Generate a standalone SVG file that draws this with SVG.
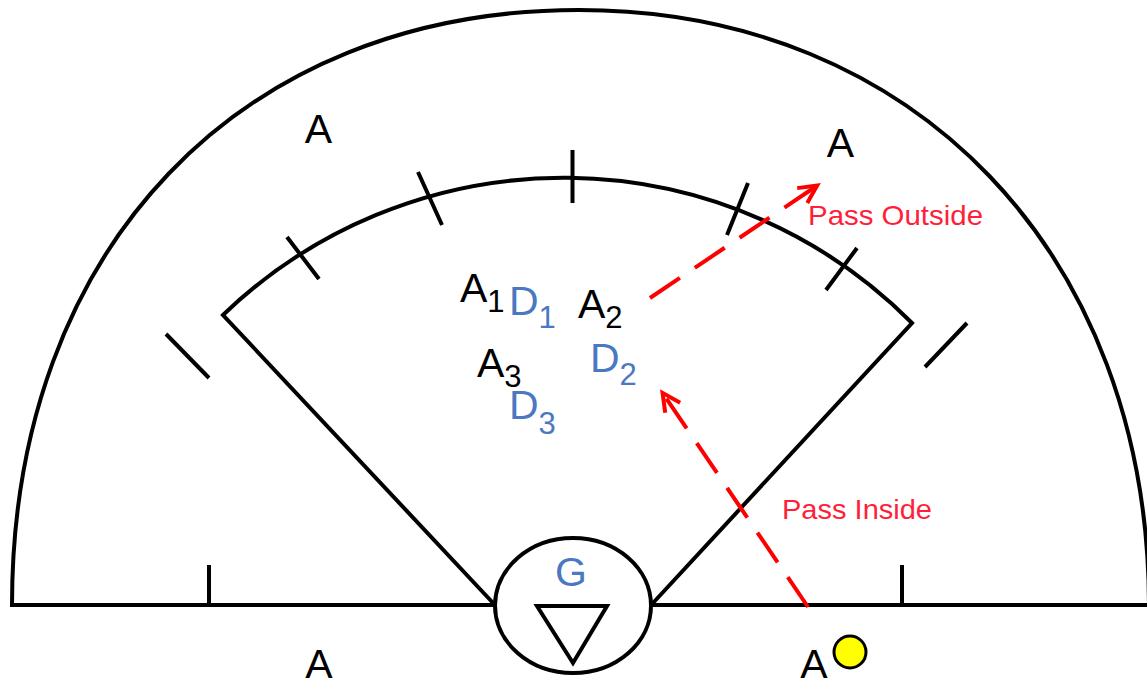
<svg xmlns="http://www.w3.org/2000/svg" width="1147" height="683" viewBox="0 0 1147 683">
<style>
.ln{stroke:#000;stroke-width:4;fill:none;stroke-linecap:butt}
.lbl{font-family:"Liberation Sans",Arial,sans-serif;font-size:41px;fill:#000}
.blue{fill:#4a78c2}
.sub{font-size:31px}
.note{font-family:"Liberation Sans",Arial,sans-serif;font-size:28px;fill:#ff1f3a}
.pass{stroke:#f00;stroke-width:4;fill:none;stroke-dasharray:36 18}
</style>
<defs>
<marker id="arr" markerUnits="userSpaceOnUse" markerWidth="40" markerHeight="40" viewBox="-25 -20 40 40" refX="1" refY="0" orient="auto" overflow="visible">
<path d="M-18,-9 L0,0 L-18,9" fill="none" stroke="#f00" stroke-width="4"/>
</marker>
</defs>
<rect width="1147" height="683" fill="#fff"/>
<g id="field">
<path class="ln" d="M12,605 C12,249 240,10 579,10 C915,10 1148,255 1149,605"/>
<path class="ln" d="M10,605 H495 M652,605 H1150"/>
<path class="ln" d="M209,565 V605 M902,565 V605"/>
</g>
<g id="sector">
<path class="ln" d="M494,604 L223,315 A491,491 0 0 1 912,323 L653,603" stroke-linejoin="miter"/>
<path class="ln" d="M287,237 L319,279 M418,172 L442,225 M572.5,150 V203 M748,183 L727,235 M857,248 L826,290 M166,334 L209,378 M967,323 L925,367"/>
</g>
<g id="goal">
<ellipse class="ln" cx="573" cy="605.5" rx="78" ry="67.5"/>
<path class="ln" d="M537,606 H607 L573,663 Z" stroke-linejoin="miter"/>
<text class="lbl blue" x="571" y="586" text-anchor="middle" font-size="42">G</text>
</g>
<g id="attackers-outer">
<text class="lbl" x="318.5" y="143" text-anchor="middle">A</text>
<text class="lbl" x="840.5" y="157" text-anchor="middle">A</text>
<text class="lbl" x="319" y="678" text-anchor="middle">A</text>
<text class="lbl" x="814" y="678" text-anchor="middle">A</text>
<circle id="ball" cx="850" cy="652" r="16" fill="#ffff00" stroke="#000" stroke-width="3"/>
</g>
<g id="players">
<text class="lbl" x="460" y="302">A<tspan class="sub" dy="10">1</tspan></text>
<text class="lbl blue" x="509" y="315">D<tspan class="sub" dy="13">1</tspan></text>
<text class="lbl" x="578" y="318">A<tspan class="sub" dy="10">2</tspan></text>
<text class="lbl" x="477" y="377">A<tspan class="sub" dy="10">3</tspan></text>
<text class="lbl blue" x="590" y="372">D<tspan class="sub" dy="13">2</tspan></text>
<text class="lbl blue" x="509" y="419">D<tspan class="sub" dy="15">3</tspan></text>
</g>
<g id="connectors">
<path class="pass" d="M650,298 L818,185" marker-end="url(#arr)"/>
<path class="pass" d="M808,607 L662,392" marker-end="url(#arr)"/>
<text class="note" x="808" y="225" textLength="175" lengthAdjust="spacingAndGlyphs">Pass Outside</text>
<text class="note" x="782" y="519" textLength="150" lengthAdjust="spacingAndGlyphs">Pass Inside</text>
</g>
</svg>
